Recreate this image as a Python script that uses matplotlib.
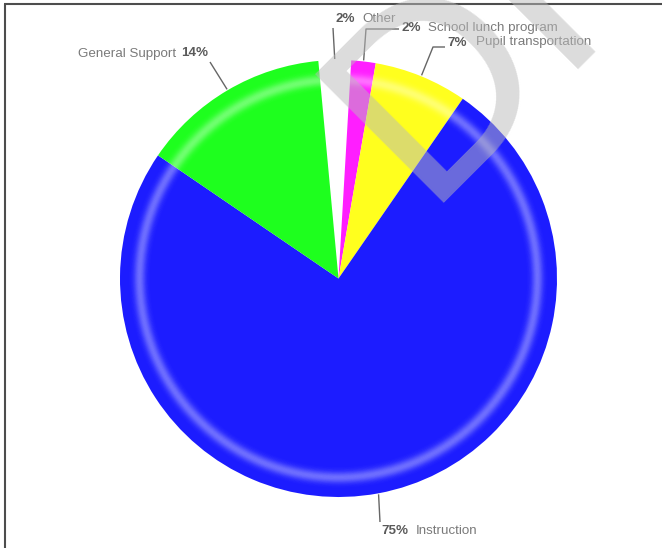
import numpy as np
import matplotlib.pyplot as plt
from matplotlib.patches import Wedge

# canvas in pixels, drawn 1:1 in data coords (y measured from the top)
W, H = 662, 548

categories = ['Other', 'School lunch program', 'Pupil transportation',
              'Instruction', 'General Support']
shares = [2.4, 1.8, 6.9, 74.9, 14.0]   # percent of budget
colors = ['#ffffff', '#ff1eff', '#ffff1e', '#1c1cff', '#1eff1e']

cx, cy, R = 338.5, 278.5, 218.5


def Y(y):
    return H - y


fig = plt.figure(figsize=(W / 100, H / 100), dpi=100)
ax = fig.add_axes([0, 0, 1, 1])

wedges, _ = ax.pie(shares, colors=colors, startangle=95.3, counterclock=False,
                   center=(cx, Y(cy)), radius=R, frame=True,
                   wedgeprops=dict(linewidth=0))
ax.set_xlim(0, W)
ax.set_ylim(0, H)
ax.set_aspect('equal')
ax.axis('off')

# glossy rim: a light ring a bit inside the edge
for r in np.linspace(0.84 * R, R, 50):
    a = 0.4 * np.exp(-((r - 0.912 * R) / (0.025 * R)) ** 2)
    ax.add_patch(Wedge((cx, Y(cy)), r, 0, 360, width=R * 0.16 / 49,
                       facecolor='white', alpha=a, lw=0, zorder=3))

# labels: (pct x, name x, text y, leader path after the pie edge)
layout = {
    'Other': (335, 362, 19, [(333, 28)]),
    'School lunch program': (401, 428, 28, [(366, 29), (399, 29)]),
    'Pupil transportation': (447, 476, 42.5, [(433, 47), (445, 47)]),
    'Instruction': (381, 416, 531, [(380, 522)]),
}
fs = 9.6
fam = 'Liberation Sans'
for w, name, v in zip(wedges, categories, shares):
    mid = np.deg2rad((w.theta1 + w.theta2) / 2)
    sx = cx + (R + 1) * np.cos(mid)
    sy = Y(cy) + (R + 1) * np.sin(mid)
    pct = f'{round(v)}%'
    if name == 'General Support':
        pts = [(210, 62)]
        ax.text(78, Y(53.5), 'General Support', ha='left', va='center',
                fontsize=fs, family=fam, color='#7a7a7a')
        ax.text(181, Y(53.5), pct, ha='left', va='center', fontsize=fs,
                family=fam, fontweight='bold', color='#5a5a5a')
    else:
        px, nx, ty, pts = layout[name]
        ax.text(px, Y(ty), pct, ha='left', va='center', fontsize=fs,
                family=fam, fontweight='bold', color='#5a5a5a')
        ax.text(nx, Y(ty), name, ha='left', va='center', fontsize=fs,
                family=fam, color='#7a7a7a')
    xs = [sx] + [p[0] for p in pts]
    ys = [sy] + [Y(p[1]) for p in pts]
    ax.plot(xs, ys, color='#666666', lw=1, solid_capstyle='butt', zorder=4)

# watermark
ax.text(422, Y(203), 'DRAFT', rotation=45, rotation_mode='anchor',
        ha='left', va='baseline', fontsize=190, family=fam,
        color='#bababa', alpha=0.5, zorder=10, clip_on=True)

# frame (top and left edges only visible)
ax.plot([4.5, 4.5], [0, Y(4)], color='#4d4d4d', lw=1.5, solid_capstyle='butt')
ax.plot([4, W], [Y(4), Y(4)], color='#4d4d4d', lw=1.5, solid_capstyle='butt')

fig.savefig('out.png', dpi=100)
